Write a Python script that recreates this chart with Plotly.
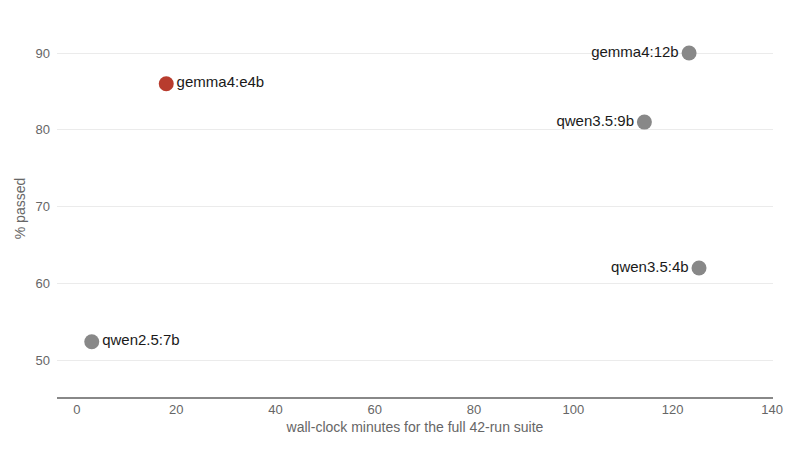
import plotly.graph_objects as go

# Dữ liệu
models = ["gemma4:e4b", "gemma4:12b", "qwen3.5:9b", "qwen3.5:4b", "qwen2.5:7b"]
minutes = [18, 123.3, 114.3, 125.3, 3]
passed = [86, 90, 81, 62, 52.4]
label_pos = ["middle right", "middle left", "middle left", "middle left", "middle right"]
colors = ["#b83c2e", "#888888", "#888888", "#888888", "#888888"]

x_ticks = [0, 20, 40, 60, 80, 100, 120, 140]
y_ticks = [50, 60, 70, 80, 90]

fig = go.Figure()
fig.add_trace(go.Scatter(
    x=minutes,
    y=passed,
    mode="markers+text",
    text=models,
    textposition=label_pos,
    marker=dict(size=15, color=colors, line=dict(width=0)),
    textfont=dict(size=15, color="#1a1a1a"),
    cliponaxis=False,
    showlegend=False,
))

# Trang có lề body 8px, nên bù lại trong margin
fig.update_layout(
    width=800,
    height=450,
    margin=dict(l=46, r=35, t=12, b=61),
    paper_bgcolor="white",
    plot_bgcolor="white",
    font=dict(family="Liberation Sans, Arial, sans-serif", size=13, color="#666666"),
    xaxis=dict(
        title=dict(text="wall-clock minutes for the full 42-run suite", standoff=6,
                   font=dict(size=14, color="#666666")),
        range=[-4, 140.2],
        tickvals=x_ticks,
        showgrid=False,
        zeroline=False,
        showline=True,
        linecolor="#888888",
        linewidth=1.5,
        ticks="",
    ),
    yaxis=dict(
        title=dict(text="% passed", standoff=6, font=dict(size=14, color="#666666")),
        range=[45.2, 94.3],
        tickvals=y_ticks,
        ticklabelstandoff=6,
        showgrid=True,
        gridcolor="#ebebeb",
        zeroline=False,
        showline=False,
        ticks="",
    ),
)

fig.write_html("out.html")
